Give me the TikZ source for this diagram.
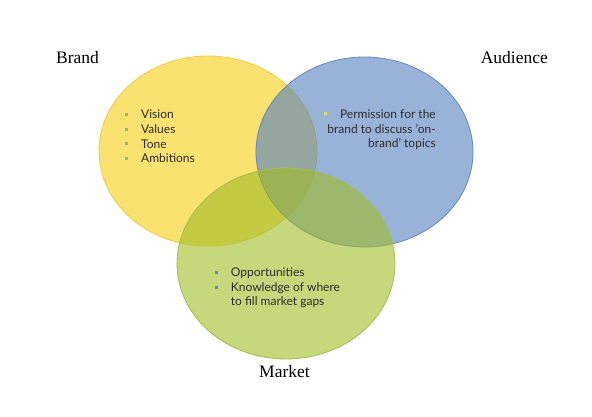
\documentclass[tikz,border=0pt]{standalone}
\usepackage{fontspec}
\setmainfont{Liberation Serif}
\newfontfamily\bodyfont{Lato}
\usetikzlibrary{shapes.geometric}
\definecolor{cyel}{RGB}{245,207,15}
\definecolor{cblu}{RGB}{83,127,190}
\definecolor{cgrn}{RGB}{160,188,37}
\definecolor{byel}{RGB}{240,205,60}
\definecolor{bblu}{RGB}{100,135,195}
\definecolor{bgrn}{RGB}{160,190,80}
\definecolor{txt}{RGB}{45,45,45}
\definecolor{sqgrn}{RGB}{155,187,89}
\definecolor{sqyel}{RGB}{240,215,70}
\definecolor{sqblu}{RGB}{100,135,200}
\tikzset{
  venn/.style={ellipse, inner sep=0pt, line width=0.8pt, fill opacity=0.6},
  heading/.style={font=\fontsize{17.5}{20}\selectfont, text=black, inner sep=0pt},
  items/.style={font=\bodyfont\fontsize{12}{14.6}\selectfont, text=txt, inner sep=0pt},
  bul/.style={rectangle, minimum size=3pt, inner sep=0pt}
}
\begin{document}
\begin{tikzpicture}[x=1pt,y=-1pt]
\useasboundingbox (0,0) rectangle (592,417);
\node[venn, fill=cyel, draw=byel, minimum width=218pt, minimum height=190pt] (brand) at (208,151) {};
\node[venn, fill=cblu, draw=bblu, minimum width=217pt, minimum height=190pt] (aud) at (364.5,152) {};
\node[venn, fill=cgrn, draw=bgrn, minimum width=218pt, minimum height=191pt] (mkt) at (286,263.5) {};

\node[heading, anchor=base west] (hb) at (56,63.3) {Brand};
\node[heading, anchor=base east] (ha) at (548,63.3) {Audience};
\node[heading, anchor=base west] (hm) at (259,377.7) {Market};

\node[items, anchor=base west] (y0) at (141,119) {Vision};
\node[items, anchor=base west] (y1) at (141,133.6) {Values};
\node[items, anchor=base west] (y2) at (141,148.2) {Tone};
\node[items, anchor=base west] (y3) at (141,162.8) {Ambitions};
\foreach \i in {0,1,2,3} \node[bul, fill=sqgrn] (by\i) at (126,114.5+14.6*\i) {};

\node[items, anchor=base east] (b0) at (436,118.3) {Permission for the};
\node[items, anchor=base east] (b1) at (436,133.1) {brand to discuss ’on-};
\node[items, anchor=base east] (b2) at (436,147.9) {brand’ topics};
\node[bul, fill=sqyel] (bb0) at (325,114) {};

\node[items, anchor=base west] (g0) at (230.7,276.7) {Opportunities};
\node[items, anchor=base west] (g1) at (230.7,291.2) {Knowledge of where};
\node[items, anchor=base west] (g2) at (230.7,305.7) {to fill market gaps};
\foreach \i in {0,1} \node[bul, fill=sqblu] (bg\i) at (216,272.5+14.6*\i) {};
\end{tikzpicture}
\end{document}
